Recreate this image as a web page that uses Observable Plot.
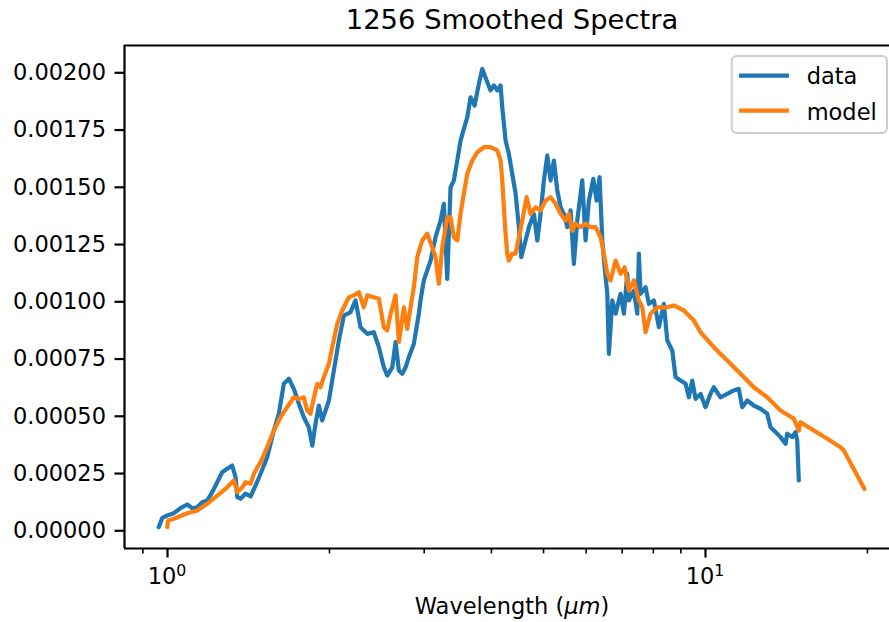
<!DOCTYPE html>
<html><head><meta charset="utf-8">
<script src="https://cdn.jsdelivr.net/npm/d3@7"></script>
<script src="https://cdn.jsdelivr.net/npm/@observablehq/plot@0.6"></script>
<style>body{margin:0;background:#fff} svg{display:block}</style>
</head><body><div id="chart"></div>
<script>
const titleText = "1256 Smoothed Spectra";
const seriesNames = ["data", "model"];
const seriesColors = ["#1f77b4", "#ff7f0e"];

const dataWavelength = [0.963,0.978,0.999,1.027,1.057,1.088,1.112,1.136,1.160,1.185,
1.211,1.237,1.264,1.291,1.319,1.338,1.348,1.367,1.396,1.427,
1.458,1.489,1.532,1.576,1.610,1.645,1.681,1.717,1.754,1.792,
1.831,1.858,1.884,1.911,1.939,1.967,1.995,2.038,2.082,2.127,
2.189,2.236,2.284,2.351,2.418,2.471,2.524,2.561,2.617,2.654,
2.692,2.731,2.770,2.809,2.870,2.932,2.953,
2.995,3.083,3.149,3.218,3.263,3.311,3.358,3.406,3.456,3.505,
3.555,3.607,3.658,3.722,3.791,3.846,3.930,3.985,4.042,4.101,
4.160,4.190,4.250,4.310,4.373,4.436,4.499,4.545,4.630,4.696,
4.797,4.868,4.937,5.007,5.081,5.153,5.226,5.303,5.378,5.455,
5.534,5.613,5.693,5.776,5.901,5.985,6.071,6.186,6.274,6.355,
6.429,6.493,6.568,6.613,6.710,6.806,6.953,7.052,7.155,7.204,
7.360,7.468,7.519,7.574,7.738,7.848,8.017,8.191,8.368,8.491,
8.674,8.798,8.988,9.183,9.313,9.449,9.584,9.788,10.0,10.216,
10.362,10.663,10.973,11.288,11.532,11.701,11.954,12.297,12.655,13.023,
13.208,13.494,13.786,14.084,14.187,14.494,14.700,14.808,14.909];
const dataFlux = [0.0000157,0.0000568,0.0000668,0.0000769,0.0000987,0.000115,0.0000987,0.000103,0.000125,0.000132,
0.000169,0.000212,0.000256,0.000271,0.000285,0.000234,0.000147,0.00014,0.000162,0.00015,
0.000198,0.000249,0.000321,0.000438,0.000511,0.000642,0.000664,0.00062,0.000555,0.000496,
0.000452,0.000372,0.000467,0.000547,0.000482,0.000525,0.000569,0.0007,0.000831,0.00094,
0.000955,0.001006,0.000889,0.00086,0.000867,0.000802,0.000714,0.000678,0.000714,0.000824,
0.0007,0.000686,0.000714,0.000758,0.000817,0.000948,0.001006,
0.001093,0.00118,0.001282,0.001355,0.001428,0.0011,0.0015,0.00153,0.001617,0.001704,
0.001755,0.001806,0.001893,0.001857,0.001952,0.002017,0.001959,0.001923,0.001945,0.001923,
0.001945,0.00185,0.001704,0.001646,0.001559,0.001472,0.001326,0.001195,0.001268,0.001326,
0.001384,0.001268,0.001384,0.00153,0.001639,0.00153,0.001617,0.001486,0.001413,0.001384,
0.001326,0.001399,0.001166,0.001355,0.00153,0.001268,0.001442,0.001537,0.001442,0.001544,
0.001268,0.001151,0.001035,0.000773,0.001006,0.000948,0.001035,0.000948,0.001122,0.001006,
0.001049,0.000948,0.00121,0.001035,0.001064,0.000991,0.001006,0.000889,0.000991,0.000831,
0.000787,0.000671,0.000656,0.000642,0.000583,0.000656,0.000576,0.000598,0.00054,0.000598,
0.000627,0.000583,0.000598,0.000613,0.00062,0.00054,0.000569,0.000547,0.000533,0.000511,
0.000452,0.000431,0.000409,0.00038,0.000424,0.000409,0.000431,0.000394,0.00022];

const modelWavelength = [0.999,1.002,1.027,1.088,1.136,1.185,1.237,1.291,1.328,1.348,
1.377,1.396,1.427,1.447,1.489,1.532,1.576,1.622,1.669,1.717,
1.754,1.792,1.818,1.844,1.866,1.898,1.925,1.952,1.995,2.024,
2.068,2.112,2.173,2.220,2.268,2.317,2.351,2.418,2.471,2.524,
2.561,2.598,2.654,2.692,2.750,2.790,2.830,2.870,2.912,2.975,
3.039,3.105,3.149,3.194,3.241,3.311,3.358,3.406,3.456,3.505,
3.555,3.607,3.685,3.765,3.873,3.985,4.101,4.160,4.190,4.219,
4.250,4.281,4.310,4.373,4.436,4.499,4.565,4.650,4.730,4.832,
4.937,5.044,5.153,5.264,5.378,5.494,5.572,5.654,5.734,5.859,
5.985,6.115,6.247,6.383,6.473,6.568,6.661,6.806,6.953,7.073,
7.204,7.360,7.519,7.629,7.738,7.905,8.135,8.491,8.734,9.116,
9.515,9.788,10.362,10.973,11.616,12.297,13.023,13.786,14.594,14.909,
15.018,15.900,16.838,17.823,18.076,19.748];
const modelFlux = [0.0000157,0.000045,0.0000524,0.0000769,0.0000886,0.000118,0.000154,0.00019,0.00022,0.000169,
0.00019,0.000212,0.000205,0.000249,0.0003,0.000365,0.000438,0.000496,0.00054,0.000583,
0.000576,0.000583,0.000525,0.000511,0.000569,0.000642,0.000627,0.000671,0.000729,0.000802,
0.000904,0.000962,0.00102,0.001028,0.001042,0.000976,0.001028,0.00102,0.001013,0.000889,
0.000875,0.000948,0.001028,0.000824,0.000976,0.000882,0.000976,0.001064,0.001195,0.001268,
0.001297,0.001238,0.001195,0.001079,0.001238,0.001369,0.001369,0.001282,0.001268,0.001384,
0.001472,0.001559,0.001617,0.001653,0.001675,0.001675,0.001661,0.001617,0.00153,0.001413,
0.001297,0.00121,0.00118,0.00121,0.00121,0.001282,0.001355,0.001457,0.001384,0.001413,
0.001399,0.001442,0.001457,0.001428,0.001384,0.001355,0.001384,0.001311,0.001341,0.001326,
0.001341,0.001326,0.001326,0.001282,0.00121,0.001122,0.001093,0.00118,0.001122,0.001151,
0.001049,0.001093,0.001006,0.000976,0.000867,0.000948,0.000976,0.000976,0.000984,0.000962,
0.000918,0.000867,0.000802,0.000744,0.000686,0.000627,0.000583,0.000525,0.000489,0.000438,
0.000474,0.000438,0.000402,0.000365,0.000351,0.000183];

const yTicks = [0, 0.00025, 0.0005, 0.00075, 0.001, 0.00125, 0.0015, 0.00175, 0.002];
const xMajorTicks = [1, 10];
const xMajorExponents = ["0", "1"];
const xMinorTicks = [0.9, 2, 3, 4, 5, 6, 7, 8, 9, 20];
const xDomain = [0.8318, 21.98];
const yDomain = [-0.0000773, 0.0021192];

const dataRows = dataWavelength.map((w, i) => ({wavelength: w, flux: dataFlux[i]}));
const modelRows = modelWavelength.map((w, i) => ({wavelength: w, flux: modelFlux[i]}));

const FONT = "DejaVu Sans";
const chart = Plot.plot({
  width: 889, height: 622,
  marginLeft: 124, marginRight: 0, marginTop: 45, marginBottom: 74,
  style: {fontFamily: FONT, fontSize: "22.5px", color: "#000", background: "#fff"},
  x: {type: "log", domain: xDomain},
  y: {domain: yDomain},
  marks: [
    Plot.line(dataRows, {x: "wavelength", y: "flux", stroke: seriesColors[0], strokeWidth: 4.2, strokeLinejoin: "round"}),
    Plot.line(modelRows, {x: "wavelength", y: "flux", stroke: seriesColors[1], strokeWidth: 4.2, strokeLinejoin: "round"}),
    Plot.axisY({ticks: yTicks, tickSize: 9.5, tickPadding: 9, tickFormat: d => d.toFixed(5), strokeWidth: 2.2, label: null, fontSize: 22.5}),
    Plot.axisX({ticks: xMajorTicks, tickSize: 9.5, strokeWidth: 2.2, tickFormat: () => "", label: null}),
    Plot.axisX({ticks: xMinorTicks, tickSize: 5.4, strokeWidth: 1.6, tickFormat: () => "", label: null}),
    Plot.ruleX([xDomain[0]], {strokeWidth: 2.2}),
    Plot.ruleY([yDomain[0], yDomain[1]], {strokeWidth: 2.2})
  ]
});

const svg = d3.select(chart);
const sx = chart.scale("x");
// x tick labels 10^n
xMajorTicks.forEach((t, i) => {
  const px = sx.apply(t);
  const txt = svg.append("text").attr("x", px - 19.3).attr("y", 583.5).attr("text-anchor", "start")
    .attr("font-family", FONT).attr("font-size", 22.5).attr("fill", "#000").text("10");
  txt.append("tspan").attr("font-size", 15.75).attr("dy", -7.3).text(xMajorExponents[i]);
});
// title
svg.append("text").attr("x", 512).attr("y", 29).attr("text-anchor", "middle")
  .attr("font-family", FONT).attr("font-size", 27.4).attr("fill", "#000").text(titleText);
// x label
const xl = svg.append("text").attr("x", 512).attr("y", 614).attr("text-anchor", "middle")
  .attr("font-family", FONT).attr("font-size", 22.5).attr("fill", "#000");
xl.append("tspan").text("Wavelength (");
xl.append("tspan").attr("font-style", "italic").text("μm");
xl.append("tspan").text(")");
// legend
const lg = svg.append("g");
lg.append("rect").attr("x", 731.7).attr("y", 56).attr("width", 155.3).attr("height", 77).attr("rx", 5)
  .attr("fill", "#fff").attr("fill-opacity", 0.8).attr("stroke", "#cccccc").attr("stroke-width", 2);
seriesNames.forEach((name, i) => {
  const ly = 75.7 + i * 35;
  lg.append("line").attr("x1", 739).attr("x2", 789).attr("y1", ly).attr("y2", ly)
    .attr("stroke", seriesColors[i]).attr("stroke-width", 4.2);
  lg.append("text").attr("x", 806.7).attr("y", 84.3 + i * 35.7).attr("text-anchor", "start")
    .attr("font-family", FONT).attr("font-size", 22.5).attr("fill", "#000").text(name);
});
document.getElementById("chart").appendChild(chart);
</script>
</body></html>
